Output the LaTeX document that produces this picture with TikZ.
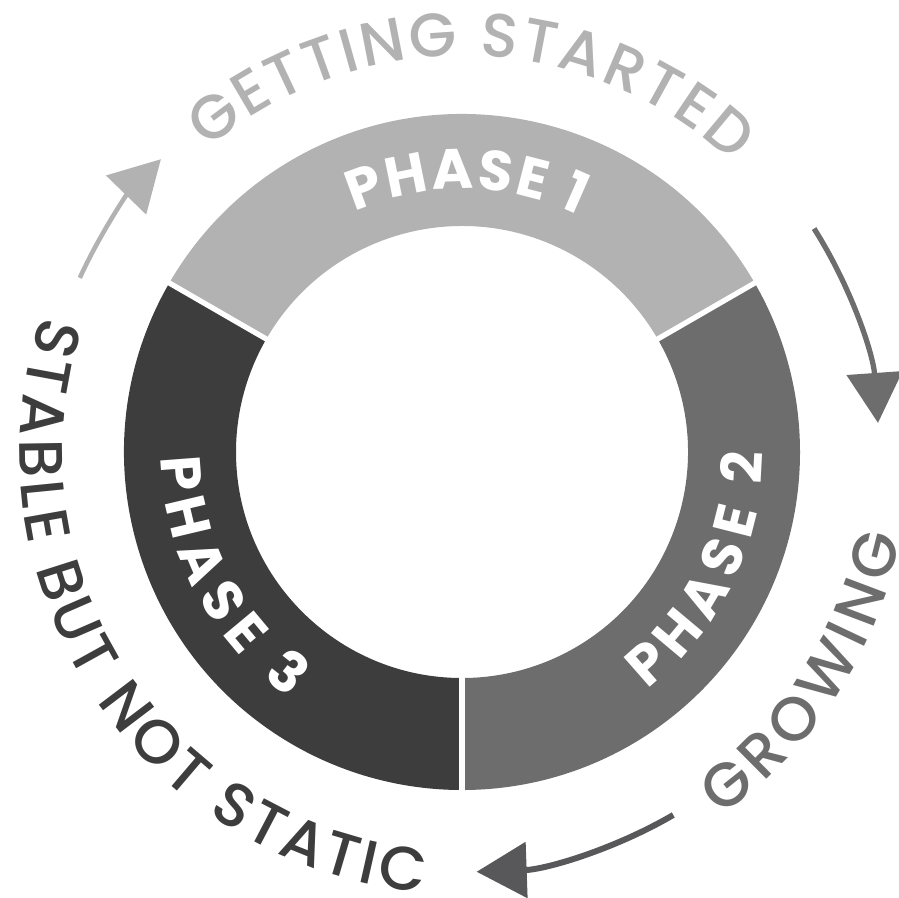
\documentclass[tikz,border=0pt]{standalone}
\usepackage{fontspec}
\setmainfont{Poppins}
\IfFontExistsTF{Poppins Medium}{\newfontfamily\outerfont{Poppins Medium}}{\newfontfamily\outerfont{Poppins}}
\usetikzlibrary{arrows.meta,decorations.text}
\definecolor{lightg}{HTML}{B2B2B2}
\definecolor{midg}{HTML}{6D6D6D}
\definecolor{darkg}{HTML}{3D3D3D}
\definecolor{arrowg}{HTML}{58585A}
\begin{document}
\begin{tikzpicture}[>={Triangle[length=5mm,width=5.5mm]},line join=round,
	curvetext/.style={decorate,decoration={text along path,text align={fit to path}}},
	phaselabel/.style={curvetext,decoration={text={|\fontsize{16}{18}\selectfont\bfseries\color{white}|#1}}},
	outerlabel/.style 2 args={curvetext,decoration={text={|\fontsize{17.5}{20}\selectfont\outerfont\color{#1}|#2}}}]
				\def\ro{3.38}
				\def\ri{2.26}
				\path (0,0) coordinate (O);
				\useasboundingbox (-4.62,-4.45) rectangle (4.37,4.52);
				% the three phases
				\foreach \a/\b/\c in {30/150/lightg,-90/30/midg,150/270/darkg}
				\fill[\c] (\a:\ro) arc[start angle=\a,end angle=\b,radius=\ro] -- (\b:\ri) arc[start angle=\b,end angle=\a,radius=\ri] -- cycle;
				\foreach \a in {30,150,270}\draw[white,line width=1.5pt] (\a:{\ri-0.05}) -- (\a:{\ro+0.05});
				% labels on the ring
				\path[phaselabel={PHASE 1}] (114:2.63) arc[start angle=114,end angle=64,radius=2.63];
				\path[phaselabel={PHASE 2}] (-52:3.01) arc[start angle=-52,end angle=0,radius=3.01];
				\path[phaselabel={PHASE 3}] (181:3.01) arc[start angle=181,end angle=235,radius=3.01];
				% outer labels
				\path[outerlabel={lightg}{GETTING STARTED}] (130:3.96) arc[start angle=130,end angle=47,radius=3.96];
				\path[outerlabel={midg}{GROWING}] (-54.5:4.47) arc[start angle=-54.5,end angle=-11,radius=4.47];
				\path[outerlabel={darkg}{STABLE BUT NOT STATIC}] (162:4.42) arc[start angle=162,end angle=265,radius=4.42];
				% arrows
				\draw[->,lightg,line width=1.3pt] (155.5:4.2) arc[start angle=155.5,end angle=135.8,radius=4.2];
				\draw[->,midg,line width=1.5pt] (32.4:4.17) arc[start angle=32.4,end angle=4,radius=4.17];
				\draw[->,arrowg,line width=1.7pt] (-59.8:4.2) arc[start angle=-59.8,end angle=-88,radius=4.2];
			\end{tikzpicture}
\end{document}
